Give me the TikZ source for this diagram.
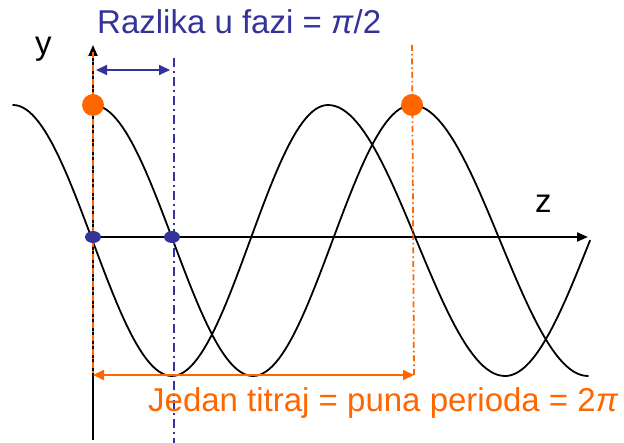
\documentclass[tikz,border=0pt]{standalone}
\usepackage{fontspec}
\setmainfont{Liberation Sans}
\usetikzlibrary{arrows.meta,shapes.geometric}
\definecolor{narancasta}{HTML}{FF6600}
\definecolor{plava}{HTML}{333399}
\tikzset{
  val/.style={line width=1.8pt,line cap=round},
  os/.style={line width=2pt,-{Triangle[length=11pt,width=9pt]}},
  strelica/.style={line width=2pt,{Triangle[length=11pt,width=10pt]}-{Triangle[length=11pt,width=10pt]}},
  crtatocka/.style={line width=1.8pt,dash pattern=on 6pt off 3pt on 1.5pt off 3pt},
  crtatocka2/.style={line width=2.4pt,dash pattern=on 9pt off 4pt on 2pt off 4pt},
  vrh/.style={circle,fill=narancasta,inner sep=0pt,minimum size=22pt},
  nula/.style={ellipse,fill=plava,inner sep=0pt,minimum width=16pt,minimum height=12pt},
  natpis/.style={font=\fontsize{33}{40}\selectfont,inner sep=0pt}
}

\begin{document}
\begin{tikzpicture}[x=1pt,y=-1pt]
\useasboundingbox (0,0) rectangle (624,443);
% tocke na osima
\coordinate (O) at (93,237);
\coordinate (ygore) at (93,45);
\coordinate (ydolje) at (93,440);
\coordinate (zkraj) at (588,237);
\coordinate (Agore) at (93,52);
\coordinate (Adolje) at (93,375);
\coordinate (Bgore) at (412,45);
\coordinate (Bdolje) at (414,375);
\coordinate (Cgore) at (174,58);
\coordinate (Cdolje) at (174,443);
\coordinate (Dlijevo) at (96,70);
\coordinate (Ddesno) at (170,70);

% valovi
\foreach \a/\b/\s/\e in {93/253/1/253, 253/412/-1/412, 412/588/1/588}
  \draw[val] plot[domain=\a:\e,samples=50] (\x,{240.5-\s*135.5*cos((\x-\a)/(\b-\a)*180)});
\foreach \a/\b/\s/\e in {13/172/1/172, 172/328/-1/328, 328/505/1/505, 505/675/-1/590}
  \draw[val] plot[domain=\a:\e,samples=50] (\x,{240.5-\s*135.5*cos((\x-\a)/(\b-\a)*180)});

% osi
\draw[os] (ydolje) -- (ygore);
\draw[os] (O) -- (zkraj);
\node[natpis,anchor=base west] (ylab) at (35,55) {y};
\node[natpis,anchor=base west] (zlab) at (535,213) {z};

% crta-tocka linije
\draw[crtatocka,narancasta] (Agore) -- (Adolje);
\draw[crtatocka,narancasta] (Bgore) -- (Bdolje);
\draw[crtatocka2,plava] (Cgore) -- (Cdolje);

% razlika u fazi i period
\draw[strelica,plava] (Dlijevo) -- (Ddesno);
\draw[strelica,narancasta] (Adolje) -- (Bdolje);

\node[vrh] (P1) at (93,105) {};
\node[vrh] (P2) at (412,105) {};
\node[nula] (N1) at (O) {};
\node[nula] (N2) at (172,237) {};

\node[natpis,plava,anchor=base west] (faza) at (97,34) {Razlika u fazi = \textit{π}/2};
\node[natpis,narancasta,anchor=base west] (perioda) at (148,412) {Jedan titraj = puna perioda = 2\textit{π}};
\end{tikzpicture}
\end{document}
